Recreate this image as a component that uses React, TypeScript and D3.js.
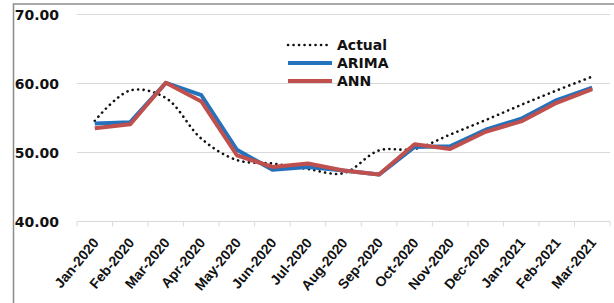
import React from "react";
import * as d3 from "d3";

const categories = [
  "Jan-2020", "Feb-2020", "Mar-2020", "Apr-2020", "May-2020", "Jun-2020", "Jul-2020",
  "Aug-2020", "Sep-2020", "Oct-2020", "Nov-2020", "Dec-2020", "Jan-2021", "Feb-2021", "Mar-2021",
];
const actual = [54.6, 59.0, 57.9, 52.0, 48.9, 48.4, 47.6, 47.0, 50.3, 50.5, 52.6, 54.7, 56.9, 59.0, 61.0];
const arima = [54.2, 54.4, 60.1, 58.3, 50.4, 47.5, 47.9, 47.4, 46.8, 50.8, 50.9, 53.3, 54.9, 57.6, 59.4];
const ann = [53.5, 54.1, 60.1, 57.4, 49.6, 47.9, 48.4, 47.4, 46.8, 51.2, 50.5, 53.0, 54.5, 57.2, 59.2];
const yTicks = [40, 50, 60, 70];
const legendLabels = ["Actual", "ARIMA", "ANN"];

const W = 614;
const H = 303;
const FONT = "'DejaVu Sans', Verdana, sans-serif";
const XFONT = "'Liberation Sans', Arial, sans-serif";

export default function App() {
  const x = d3.scaleBand<string>().domain(categories).range([77, 610]).padding(0);
  const y = d3.scaleLinear().domain([40, 70]).range([221.5, 14.5]);
  const cx = (c: string) => (x(c) as number) + x.bandwidth() / 2;

  const lineLinear = d3
    .line<number>()
    .x((_, i) => cx(categories[i]))
    .y((d) => y(d))
    .curve(d3.curveLinear);
  const lineSmooth = d3
    .line<number>()
    .x((_, i) => cx(categories[i]))
    .y((d) => y(d))
    .curve(d3.curveCatmullRom.alpha(0.5));

  const series = [
    { name: legendLabels[0], color: "#111", width: 2.6, dash: "0.1 5.4", path: lineSmooth(actual) },
    { name: legendLabels[1], color: "#2471BC", width: 4, dash: undefined, path: lineLinear(arima) },
    { name: legendLabels[2], color: "#C0504D", width: 4, dash: undefined, path: lineLinear(ann) },
  ];

  const boundaries = categories.map((c) => x(c) as number).concat([610]);

  return (
    <svg
      width={W}
      height={H}
      style={{ position: "absolute", left: 0, top: 0, background: "#fff" }}
      fontFamily={FONT}
    >
      <rect x={0} y={0} width={W} height={H} fill="#fff" />
      {/* outer frame */}
      <rect x={13.5} y={4} width={W + 10} height={H + 10} fill="none" stroke="#8c8c8c" strokeWidth={1.5} />

      {/* gridlines */}
      {yTicks.map((t) => (
        <line key={t} x1={77} x2={610} y1={y(t)} y2={y(t)} stroke="#d9d9d9" strokeWidth={1} />
      ))}
      {/* x tick marks */}
      {boundaries.map((b, i) => (
        <line key={i} x1={b} x2={b} y1={y(40)} y2={y(40) + 5} stroke="#d9d9d9" strokeWidth={1} />
      ))}

      {/* y labels */}
      {yTicks.map((t) => (
        <text
          key={t}
          x={59}
          y={y(t)}
          dy="0.36em"
          textAnchor="end"
          fontSize={14}
          fontWeight="bold"
          fill="#111"
        >
          {t.toFixed(2)}
        </text>
      ))}

      {/* x labels */}
      {categories.map((c) => (
        <text
          key={c}
          transform={`translate(${cx(c) + 1},${240}) rotate(-50)`}
          textAnchor="end"
          dy="0.35em"
          fontSize={14}
          fontWeight="bold"
          fontFamily={XFONT}
          fill="#111"
        >
          {c}
        </text>
      ))}

      {/* series */}
      {series.map((s) => (
        <path
          key={s.name}
          d={s.path || ""}
          fill="none"
          stroke={s.color}
          strokeWidth={s.width}
          strokeDasharray={s.dash}
          strokeLinecap={s.dash ? "round" : "butt"}
          strokeLinejoin="round"
        />
      ))}

      {/* legend */}
      {series.map((s, i) => {
        const ly = 45 + i * 18;
        return (
          <g key={s.name}>
            <line
              x1={288}
              x2={332}
              y1={ly}
              y2={ly}
              stroke={s.color}
              strokeWidth={s.width}
              strokeDasharray={s.dash}
              strokeLinecap={s.dash ? "round" : "butt"}
            />
            <text x={337} y={ly} dy="0.36em" fontSize={14} fontWeight="bold" fill="#111">
              {s.name}
            </text>
          </g>
        );
      })}
    </svg>
  );
}
